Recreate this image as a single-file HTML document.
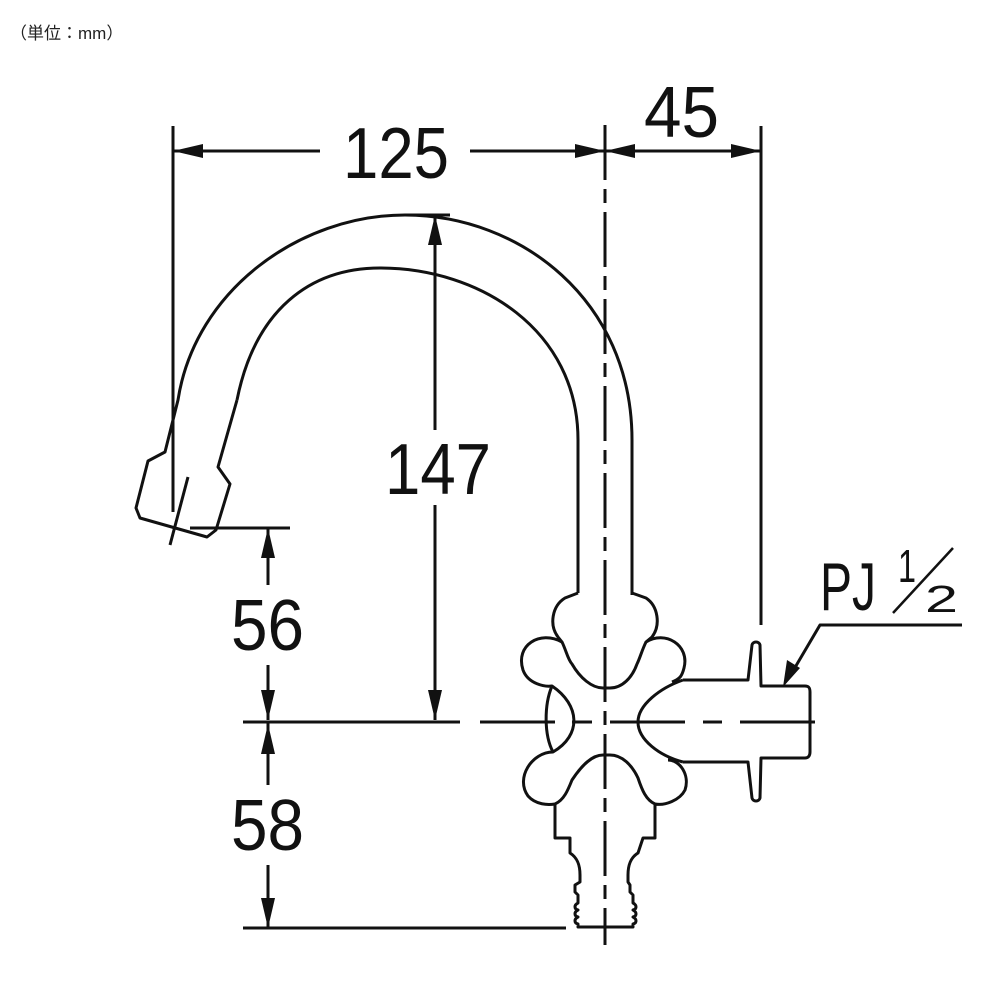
<!DOCTYPE html>
<html><head><meta charset="utf-8"><style>
html,body{margin:0;padding:0;background:#fff;width:1000px;height:1000px;overflow:hidden}
svg{display:block}
</style></head><body>
<svg width="1000" height="1000" viewBox="0 0 1000 1000" xmlns="http://www.w3.org/2000/svg">
<rect width="1000" height="1000" fill="#fff"/>
<text x="10" y="39" font-family="'Liberation Sans','Noto Sans CJK JP',sans-serif" font-size="17" fill="#222">（単位：mm）</text>

<g fill="none" stroke="#111" stroke-width="3" stroke-linejoin="round" stroke-linecap="butt">
<line x1="173" y1="126" x2="173" y2="512"/>
<line x1="761" y1="126" x2="761" y2="625"/>
<line x1="605" y1="125" x2="605" y2="945" stroke-dasharray="55 9 14 9"/>
<line x1="173" y1="151" x2="320" y2="151"/>
<line x1="470" y1="151" x2="605" y2="151"/>
<line x1="605" y1="151" x2="761" y2="151"/>
<line x1="405" y1="215" x2="450" y2="215"/>
<line x1="435" y1="215" x2="435" y2="430"/>
<line x1="435" y1="505" x2="435" y2="720"/>
<line x1="190" y1="528" x2="290" y2="528"/>
<line x1="268" y1="528" x2="268" y2="585"/>
<line x1="268" y1="665" x2="268" y2="720"/>
<line x1="268" y1="722" x2="268" y2="785"/>
<line x1="268" y1="865" x2="268" y2="928"/>
<line x1="243" y1="928" x2="566" y2="928"/>
<line x1="243" y1="722" x2="460" y2="722"/>
<line x1="480" y1="722" x2="555" y2="722"/>
<line x1="572" y1="722" x2="592" y2="722"/>
<line x1="610" y1="722" x2="685" y2="722"/>
<line x1="703" y1="722" x2="722" y2="722"/>
<line x1="740" y1="722" x2="815" y2="722"/>
<line x1="188" y1="477" x2="170" y2="545"/>

<path d="M632,595 L632,440 C632,300 520,215 405,215 C300,215 195,290 178,400 L165,452 L148,461 L136,508 L140,518 L207,537 L216,530 L230,484 L218,467 L237,400"/>
<path d="M237,400 C255,310 310,268 380,268 C480,268 578,330 578,440 L578,593"/>

<path d="M578,593 L565,598 C552,606 549,625 558,637 L562,642 C540,630 515,645 523,670 C528,684 545,687 552,686 C580,705 582,735 553,752 C532,752 515,778 528,796 C536,805 548,805 555,804 L555,838 L570,838 L570,853 C578,858 580,866 580,875 L580,882 L575,885 L575,892 L578,895 L578,903 C574,905 574,909 578,910 C574,912 574,916 578,917 C574,919 574,923 578,924 L578,927 L633,927 L633,924 C637,923 637,919 633,917 C637,916 637,912 633,910 C637,909 637,905 633,903 L633,895 L630,892 L630,885 L628,882 L628,875 C628,866 630,858 638,853 L643,838 L655,838 L655,804 C665,806 680,800 685,790 C690,775 680,760 668,760"/>
<path d="M632,593 L646,598 C658,606 661,625 652,637 L646,642 C665,630 690,645 684,668 C682,676 680,679 672,682"/>
<path d="M562,642 C566,650 568,660 572,664 C580,678 592,688 603,688 L610,688 C622,688 632,678 637,664 C640,658 642,650 646,642"/>
<path d="M552,686 C544,705 544,735 553,752"/>
<path d="M683,680 C660,688 638,705 638,722 C638,740 660,756 683,762"/>
<path d="M555,804 C564,800 568,790 572,780 C582,765 592,755 603,755 L610,755 C622,755 632,765 638,778 C642,790 646,800 655,804"/>
<path d="M683,680 L748,680 L752,645 C753,641 759,641 760,645 L761,686 L805,686 C809,686 810,688 810,692 L810,752 C810,756 808,758 805,758 L761,758 L760,798 C759,802 753,802 752,798 L748,762 L683,762"/>
<polyline points="790,676 820,625 962,625"/>
<line x1="893" y1="613" x2="953" y2="548" stroke-width="2.5"/>
</g>

<g fill="#111" stroke="none">
<polygon points="173,151 203,144 203,158"/>
<polygon points="605,151 575,144 575,158"/>
<polygon points="605,151 635,144 635,158"/>
<polygon points="761,151 731,144 731,158"/>
<polygon points="435,215 428,245 442,245"/>
<polygon points="435,720 428,690 442,690"/>
<polygon points="268,528 261,558 275,558"/>
<polygon points="268,720 261,690 275,690"/>
<polygon points="268,724 261,754 275,754"/>
<polygon points="268,928 261,898 275,898"/>
<polygon points="783,687 787,660 800,668"/>
</g>

<g font-family="'Liberation Sans',sans-serif" fill="#111">
<text x="343" y="178" font-size="72" textLength="106" lengthAdjust="spacingAndGlyphs">125</text>
<text x="644" y="137" font-size="72" textLength="75" lengthAdjust="spacingAndGlyphs">45</text>
<text x="385" y="494" font-size="72" textLength="106" lengthAdjust="spacingAndGlyphs">147</text>
<text x="231" y="650" font-size="72" textLength="73" lengthAdjust="spacingAndGlyphs">56</text>
<text x="231" y="850" font-size="72" textLength="73" lengthAdjust="spacingAndGlyphs">58</text>
<text x="820" y="610" font-size="68" textLength="56" lengthAdjust="spacingAndGlyphs">PJ</text>
<text x="898" y="582" font-size="46" textLength="18" lengthAdjust="spacingAndGlyphs">1</text>
<text x="925" y="612" font-size="38" textLength="33" lengthAdjust="spacingAndGlyphs">2</text>
</g>
</svg>
</body></html>
